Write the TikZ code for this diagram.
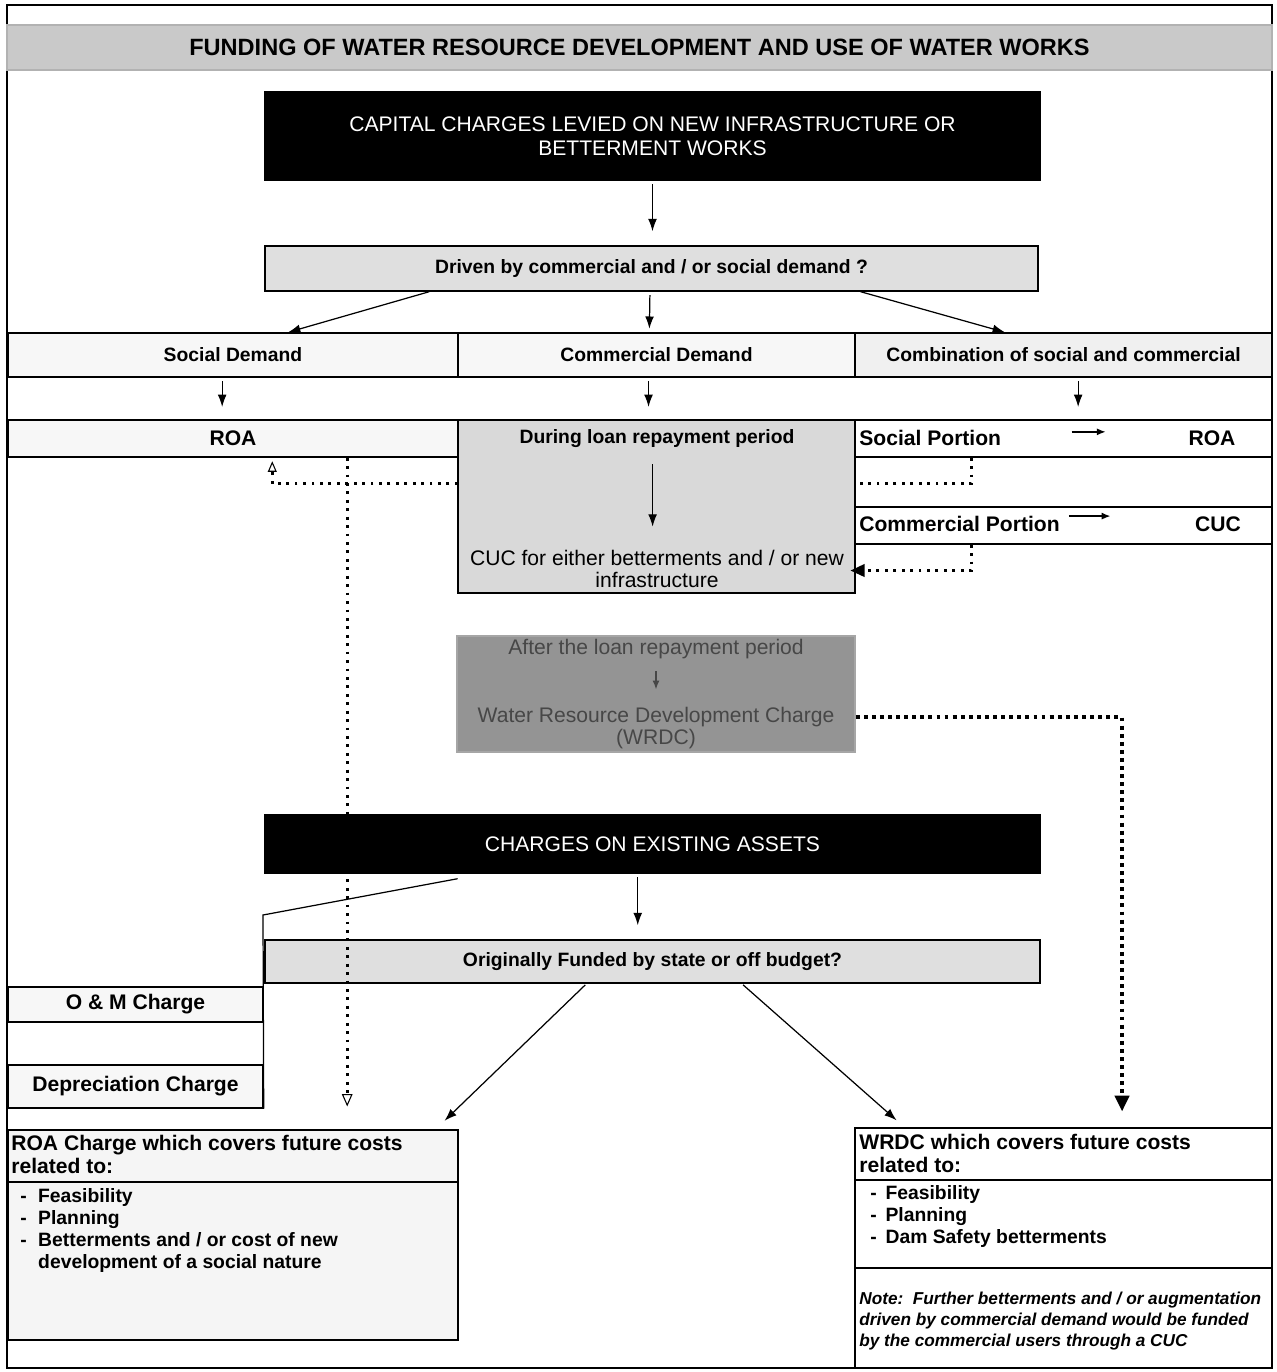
\documentclass[tikz,border=0pt]{standalone}
\usepackage{fontspec}
\setmainfont{Liberation Sans}
\usetikzlibrary{arrows.meta,calc,backgrounds}
\newcommand\fs[2]{\fontsize{#1}{#2}\selectfont}
\newcommand\mkbox[7]{%
  \pgfmathsetmacro\myBW{(#4-#2)*0.02}%
  \pgfmathsetmacro\myBH{(#5-#3)*0.02}%
  \node[#6, minimum width=\myBW cm, minimum height=\myBH cm] (#1) at ({(#2+#4)/2},{(#3+#5)/2}) {#7};}
\begin{document}
\begin{tikzpicture}[x=0.02cm, y=-0.02cm,
  box/.style={draw=black, line width=0.8pt, inner sep=0pt, rectangle, font=\bfseries\fs{11}{13}},
  lbl/.style={inner sep=0pt},
  arr/.style={-{Latex[length=7pt,width=5pt]}, line width=0.7pt},
  sarr/.style={-{Latex[length=5pt,width=4pt]}, line width=0.8pt},
  dots/.style={line width=1.5pt, dash pattern=on 1.6pt off 3.2pt},
  bigdots/.style={line width=2.2pt, dash pattern=on 2.2pt off 2.4pt}]
\useasboundingbox (0,0) rectangle (1276,1372);
\draw[line width=0.8pt] (7,5) rectangle (1272,1368);

% boxes
\mkbox{title}{7}{25}{1272}{70}{box, draw=gray!60, fill=gray!42, font=\bfseries\fs{13.4}{15}}{FUNDING OF WATER RESOURCE DEVELOPMENT AND USE OF WATER WORKS}
\mkbox{cap}{265}{92}{1040}{180}{box, fill=black, text=white, font=\fs{12}{13.6}, align=center}{CAPITAL CHARGES LEVIED ON NEW INFRASTRUCTURE OR\\BETTERMENT WORKS}
\mkbox{driven}{265}{246}{1038}{291}{box, fill=gray!25}{Driven by commercial and / or social demand ?}
\mkbox{soc}{8}{333}{458}{377}{box, fill=gray!6}{Social Demand}
\mkbox{com}{458}{333}{855}{377}{box, fill=gray!6}{Commercial Demand}
\mkbox{comb}{855}{333}{1272}{377}{box, fill=gray!12}{Combination of social and commercial}
\mkbox{roa}{8}{420}{458}{457}{box, fill=gray!6, font=\bfseries\fs{12}{14}}{ROA}
\mkbox{during}{458}{420}{855}{593}{box, fill=gray!30}{}
\mkbox{socp}{855}{420}{1272}{457}{box}{}
\mkbox{comp}{855}{507}{1272}{544}{box}{}
\mkbox{wrdc}{457}{636}{855}{752}{box, draw=gray!70, fill=black!42}{}
\mkbox{exist}{265}{815}{1040}{873}{box, fill=black, text=white, font=\fs{12}{14}}{CHARGES ON EXISTING ASSETS}
\mkbox{orig}{265}{940}{1040}{983}{box, fill=gray!25}{Originally Funded by state or off budget?}
\mkbox{om}{8}{987}{263}{1022}{box, fill=gray!6, font=\bfseries\fs{12}{14}}{O \& M Charge}
\mkbox{dep}{8}{1065}{263}{1108}{box, fill=gray!6, font=\bfseries\fs{12}{14}}{Depreciation Charge}
\mkbox{roac}{8}{1130}{458}{1340}{box, fill=gray!8}{}
\mkbox{wrdcc}{855}{1128}{1272}{1368}{box}{}

% dividers inside boxes
\draw[line width=0.8pt] (roac.west |- 0,1182) -- (roac.east |- 0,1182);
\draw[line width=0.8pt] (wrdcc.west |- 0,1180) -- (wrdcc.east |- 0,1180);
\draw[line width=0.8pt] (wrdcc.west |- 0,1268) -- (wrdcc.east |- 0,1268);

% inner labels
\node[lbl, font=\bfseries\fs{11}{13}] (dur1) at (657,439) {During loan repayment period};
\node[lbl, font=\fs{12}{13}, align=center] (cuc) at (657,569) {CUC for either betterments and / or new\\infrastructure};
\node[lbl, anchor=west, font=\bfseries\fs{12}{14}] (sp1) at (859,438) {Social Portion};
\node[lbl, font=\bfseries\fs{12}{14}] (sp2) at (1212,438) {ROA};
\node[lbl, anchor=west, font=\bfseries\fs{12}{14}] (cp1) at (859,524) {Commercial Portion};
\node[lbl, font=\bfseries\fs{12}{14}] (cp2) at (1218,524) {CUC};
\node[lbl, text=black!72, font=\fs{12}{13}] (wr1) at (656,649) {After the loan repayment period};
\node[lbl, text=black!72, font=\fs{12}{12.5}, align=center] (wr2) at (656,728) {Water Resource Development Charge\\(WRDC)};

\node[lbl, anchor=north west, font=\bfseries\fs{12}{13}, align=left] (roah) at (11,1135) {ROA Charge which covers future costs\\related to:};
\node[lbl, anchor=north west, font=\bfseries\fs{11}{12.5}] (roai) at (20,1187)
 {\begin{tabular}{@{}l@{\hspace{6.5pt}}l@{}}- & Feasibility\\- & Planning\\- & Betterments and / or cost of new\\ & development of a social nature\end{tabular}};
\node[lbl, anchor=north west, font=\bfseries\fs{12}{13}, align=left] (wrh) at (859,1134) {WRDC which covers future costs\\related to:};
\node[lbl, anchor=north west, font=\bfseries\fs{11}{12.5}] (wri) at (870,1184)
 {\begin{tabular}{@{}l@{\hspace{5pt}}l@{}}- & Feasibility\\- & Planning\\- & Dam Safety betterments\end{tabular}};
\node[lbl, anchor=north west, font=\bfseries\itshape\fs{9.8}{11.9}, align=left] (note) at (859,1292)
 {Note:\ \ Further betterments and / or augmentation\\driven by commercial demand would be funded\\by the commercial users through a CUC};

% hidden dotted connector (behind central box)
\begin{scope}[on background layer]
\draw[dots, -{Triangle[open,length=6pt,width=5pt,line width=0.6pt]}, shorten >=2pt]
  ($(socp.south west)!0.28!(socp.south east)$) -- ++(0,26) -| ($(roa.south west)!0.587!(roa.south east)$);
\end{scope}

% solid arrows
\draw[arr, shorten <=2pt, shorten >=8pt] (cap.south) -- (cap.south |- driven.north);
\draw[arr] ($(driven.south west)!0.213!(driven.south east)$) -- ($(soc.north west)!0.622!(soc.north east)$);
\draw[arr, shorten <=2pt, shorten >=2pt] ($(driven.south west)!0.498!(driven.south east)$) -- ($(com.north west)!0.482!(com.north east)$);
\draw[arr] ($(driven.south west)!0.77!(driven.south east)$) -- ($(comb.north west)!0.36!(comb.north east)$);
\draw[arr, shorten <=2pt, shorten >=7pt] ($(soc.south west)!0.476!(soc.south east)$) -- ($(roa.north west)!0.476!(roa.north east)$);
\draw[arr, shorten <=2pt, shorten >=7pt] ($(com.south west)!0.48!(com.south east)$) -- ($(during.north west)!0.48!(during.north east)$);
\draw[arr, shorten <=2pt, shorten >=7pt] ($(comb.south west)!0.535!(comb.south east)$) -- ($(socp.north west)!0.535!(socp.north east)$);
\draw[arr, shorten <=9pt, shorten >=13pt] ([xshift=-2.5pt]dur1.south) -- ([xshift=-2.5pt]dur1.south |- cuc.north);
\draw[sarr, shorten <=40pt, shorten >=47pt] ([yshift=3.5pt]sp1.east) -- ([yshift=3.5pt]sp2.west);
\draw[sarr, shorten <=5pt, shorten >=48pt] ([yshift=4.5pt]cp1.east) -- ([yshift=4.5pt]cp2.west);
\draw[arr, draw=black!72, -{Latex[length=5pt,width=4pt]}, shorten <=7pt, shorten >=10pt] (wr1.south) -- (wr1.south |- wr2.north);
\draw[arr, shorten <=2pt, shorten >=8pt] ($(exist.south west)!0.481!(exist.south east)$) -- ($(orig.north west)!0.481!(orig.north east)$);
\draw[arr, shorten <=1pt, shorten >=7pt] ($(orig.south west)!0.415!(orig.south east)$) -- ($(roac.north west)!0.949!(roac.north east)$);
\draw[arr, shorten <=1pt, shorten >=6pt] ($(orig.south west)!0.615!(orig.south east)$) -- ($(wrdcc.north west)!0.12!(wrdcc.north east)$);

% line from existing assets to O&M / depreciation
\coordinate (bend) at (263,915);
\draw[line width=0.7pt] ($(exist.south west)!0.249!(exist.south east)$) ++(0,5) -- (bend) -- (dep.south east);

% dotted connectors
\draw[dots, -{Triangle[length=8pt,width=7pt]}, shorten >=-3pt]
  ($(comp.south west)!0.28!(comp.south east)$) |- ($(during.north east)!0.867!(during.south east)$);
\draw[dots, -{Triangle[open,length=7pt,width=6pt,line width=0.6pt]}, shorten >=13pt]
  ($(roa.south west)!0.753!(roa.south east)$) -- ($(roac.north west)!0.753!(roac.north east)$);
\draw[bigdots, -{Triangle[length=9pt,width=8pt]}, shorten >=9pt]
  ($(wrdc.north east)!0.698!(wrdc.south east)$) -| ($(wrdcc.north west)!0.64!(wrdcc.north east)$);
\end{tikzpicture}
\end{document}
